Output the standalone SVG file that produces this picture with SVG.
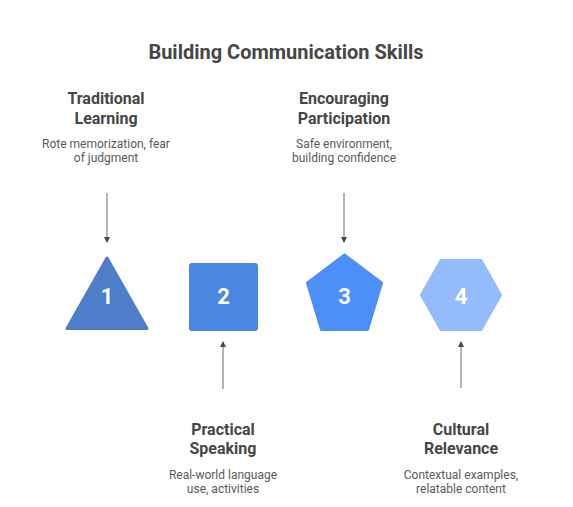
<svg xmlns="http://www.w3.org/2000/svg" width="573" height="507" viewBox="0 0 573 507">
<style>
.title{font-family:Roboto,"Liberation Sans",sans-serif;font-weight:700;font-size:20px;fill:#464646;text-anchor:middle}
.head{font-family:Roboto,"Liberation Sans",sans-serif;font-weight:700;font-size:16px;fill:#464646;text-anchor:middle}
.desc{font-family:Roboto,"Liberation Sans",sans-serif;font-size:12px;fill:#5a5a5a;text-anchor:middle}
.num{font-family:Roboto,"Liberation Sans",sans-serif;font-weight:700;font-size:22px;fill:#ffffff;text-anchor:middle}
.conn{stroke:#8c8c8c;stroke-width:1.3;fill:none}
</style>
<defs>
<marker id="ah" markerWidth="6" markerHeight="6" refX="5" refY="3" orient="auto" markerUnits="userSpaceOnUse">
<path d="M0,0 L6,3 L0,6 Z" fill="#4a4a4a"/>
</marker>
</defs>
<rect width="573" height="507" fill="#ffffff"/>
<text class="title" x="286" y="59">Building Communication Skills</text>

<g id="connectors">
<line class="conn" x1="107" y1="193" x2="107" y2="242" marker-end="url(#ah)"/>
<line class="conn" x1="344" y1="193" x2="344" y2="242" marker-end="url(#ah)"/>
<line class="conn" x1="223" y1="389" x2="223" y2="342" marker-end="url(#ah)"/>
<line class="conn" x1="461" y1="388" x2="461" y2="342" marker-end="url(#ah)"/>
</g>

<g id="node1">
<polygon points="107,258 67,328.5 147,328.5" fill="#4E7DC9" stroke="#4E7DC9" stroke-width="3" stroke-linejoin="round"/>
<text class="num" x="107" y="304">1</text>
<text class="head" x="106" y="104">Traditional</text>
<text class="head" x="106" y="123.5">Learning</text>
<text class="desc" x="106" y="147.5">Rote memorization, fear</text>
<text class="desc" x="106" y="162">of judgment</text>
</g>

<g id="node2">
<rect x="189" y="263" width="69" height="68" rx="3" fill="#4A87E2"/>
<text class="num" x="223.5" y="304">2</text>
<text class="head" x="223" y="435">Practical</text>
<text class="head" x="223" y="454">Speaking</text>
<text class="desc" x="223" y="478.5">Real-world language</text>
<text class="desc" x="223" y="493">use, activities</text>
</g>

<g id="node3">
<polygon points="344.5,255 307.5,283 321.5,329.5 367.5,329.5 381.5,283" fill="#4E8FF7" stroke="#4E8FF7" stroke-width="3" stroke-linejoin="round"/>
<text class="num" x="344.5" y="304">3</text>
<text class="head" x="344" y="104">Encouraging</text>
<text class="head" x="344" y="123.5">Participation</text>
<text class="desc" x="344" y="147.5">Safe environment,</text>
<text class="desc" x="344" y="162">building confidence</text>
</g>

<g id="node4">
<polygon points="421.5,295 441,260.5 481,260.5 500.5,295 481,329.5 441,329.5" fill="#94BBFB" stroke="#94BBFB" stroke-width="3" stroke-linejoin="round"/>
<text class="num" x="461" y="304">4</text>
<text class="head" x="461" y="435">Cultural</text>
<text class="head" x="461" y="454">Relevance</text>
<text class="desc" x="461" y="478.5">Contextual examples,</text>
<text class="desc" x="461" y="493">relatable content</text>
</g>
</svg>
